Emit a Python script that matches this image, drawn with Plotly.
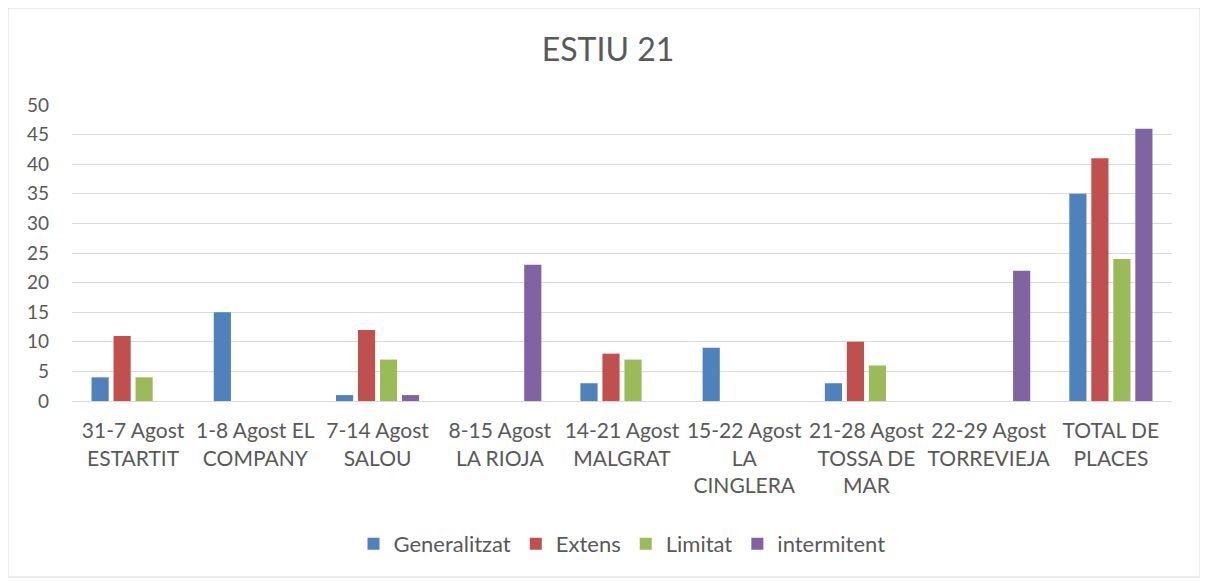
import plotly.graph_objects as go

categories = ["31-7 Agost<br>ESTARTIT", "1-8 Agost EL<br>COMPANY", "7-14 Agost<br>SALOU",
              "8-15 Agost<br>LA RIOJA", "14-21 Agost<br>MALGRAT", "15-22 Agost<br>LA<br>CINGLERA",
              "21-28 Agost<br>TOSSA DE<br>MAR", "22-29 Agost<br>TORREVIEJA", "TOTAL DE<br>PLACES"]
generalitzat = [4, 15, 1, 0, 3, 9, 3, 0, 35]
extens = [11, 0, 12, 0, 8, 0, 10, 0, 41]
limitat = [4, 0, 7, 0, 7, 0, 6, 0, 24]
intermitent = [0, 0, 1, 23, 0, 0, 0, 22, 46]

series = [("Generalitzat", generalitzat, "#4F81BD"),
          ("Extens", extens, "#C0504D"),
          ("Limitat", limitat, "#9BBB59"),
          ("intermitent", intermitent, "#8064A2")]

fig = go.Figure()
for name, vals, col in series:
    fig.add_trace(go.Bar(x=categories, y=vals, name=name, marker_color=col,
                         marker_line_width=0))

OFF = 8  # page body margin
W, H = 1200, 573
L, R, T, B = 64, 36, 97, 180
pw, ph = W - L - R, H - T - B

def px(x):
    return (x - OFF - L) / pw

def py(y):
    return (H - B - (y - OFF)) / ph

fig.update_layout(
    width=W, height=H,
    margin=dict(l=L, r=R, t=T, b=B),
    paper_bgcolor="white", plot_bgcolor="white",
    font=dict(family="Lato, Calibri, sans-serif", color="#595959", size=18),
    title=dict(text="ESTIU 21", x=0.5, xanchor="center", y=1 - (50 - OFF) / H, yanchor="middle",
               font=dict(size=32, color="#595959")),
    barmode="group", bargap=0.28, bargroupgap=0.22,
    legend=dict(orientation="h", x=0.5, xanchor="center", y=py(544), yanchor="middle",
                font=dict(size=22), traceorder="normal", itemwidth=30),
    xaxis=dict(tickfont=dict(size=21), showline=True, linecolor="#d9d9d9", ticks="",
               showgrid=False, ticklabelstandoff=11),
    yaxis=dict(range=[0, 50], dtick=5, tickfont=dict(size=19), showgrid=True,
               gridcolor="#d9d9d9", gridwidth=1, zeroline=False, ticks="",
               showline=False, ticklabelstandoff=22),
    shapes=[dict(type="rect", xref="paper", yref="paper",
                 x0=px(8), x1=px(1200), y0=py(577), y1=py(8),
                 line=dict(color="#d9d9d9", width=1), fillcolor="rgba(0,0,0,0)", layer="below")],
)

fig.write_html("out.html")
